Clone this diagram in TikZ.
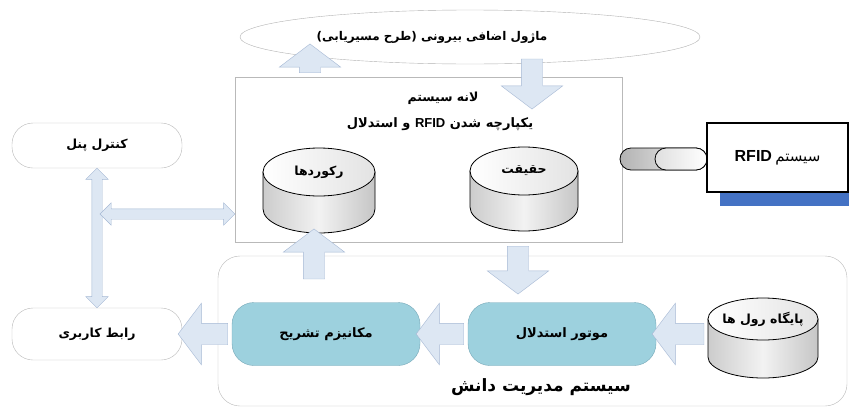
\documentclass[tikz,border=0pt]{standalone}
\usepackage{fontspec}
\usepackage{tikz}
\usetikzlibrary{shapes.geometric, shapes.arrows, shadows, calc, positioning}
\TeXXeTstate=1
\newfontfamily\faFont[Script=Arabic]{DejaVu Sans}
\newfontfamily\enFont{Liberation Sans}
\definecolor{boxGray}{RGB}{185,185,185}
\definecolor{tealFill}{RGB}{157,209,222}
\definecolor{tealLine}{RGB}{118,168,184}
\definecolor{arrowFill}{RGB}{221,231,243}
\definecolor{arrowLine}{RGB}{165,184,212}
\definecolor{rfidBlue}{RGB}{68,114,196}
\tikzset{
    faLabel/.style={font=\faFont\bfseries\fontsize{12.5}{14}\selectfont, inner sep=1pt},
    faTitle/.style={font=\faFont\bfseries\fontsize{17}{19}\selectfont, inner sep=1pt},
    extModule/.style={ellipse, draw=gray!60, fill=white, minimum width=460pt, minimum height=54pt, inner sep=0pt},
    sysFrame/.style={rectangle, draw=boxGray, fill=white, minimum width=387pt, minimum height=165pt, inner sep=0pt},
    kmsFrame/.style={rectangle, draw=boxGray, fill=white, rounded corners=22pt, minimum width=629pt, minimum height=150pt, inner sep=0pt},
    pillNode/.style={faLabel, rectangle, draw=boxGray, fill=white, rounded corners=21pt, minimum width=170pt, inner sep=0pt},
    tealNode/.style={faLabel, font=\faFont\bfseries\fontsize{13}{15}\selectfont, rectangle, draw=tealLine, fill=tealFill, rounded corners=22pt, minimum width=188pt, minimum height=63pt, inner sep=0pt},
    drumBox/.style={rectangle, inner sep=0pt, outer sep=0pt},
    drumSide/.style={draw=black, thick, left color=gray!40, right color=gray!45, middle color=gray!10},
    drumTop/.style={draw=black, thick, left color=white, right color=gray!22},
    rfidNode/.style={rectangle, draw=black, very thick, fill=white, minimum width=141pt, minimum height=69pt, general shadow={fill=rfidBlue, shadow xshift=13pt, shadow yshift=-14pt}},
    linkCap/.style={rectangle, draw=black, thick, rounded corners=11pt, minimum height=22pt, inner sep=0pt, left color=gray!60, right color=gray!8},
    blockArrow/.style={single arrow, draw=arrowLine, fill=arrowFill, inner xsep=0pt, inner ysep=10.5pt, single arrow head extend=20pt, single arrow tip angle=106, single arrow head indent=0pt},
    dualArrow/.style={double arrow, draw=arrowLine, fill=arrowFill, inner xsep=0pt, inner ysep=5pt, double arrow head extend=6pt, double arrow tip angle=90, double arrow head indent=0pt},
}
\newcommand{\rtlText}[1]{\beginR #1\endR}
\newcommand{\drawBlock}[3][blockArrow]{
    \path let \p1=(#2), \p2=(#3), \n1={veclen(\x2-\x1,\y2-\y1)}, \n2={atan2(\y2-\y1,\x2-\x1)} in
        node[#1, minimum height=\n1, rotate=\n2] at ($(\p1)!0.5!(\p2)$) {};
}
% name, centre, x radius, height, y radius, label
\newcommand{\drawDrum}[6]{
    \node[drumBox, minimum width=2*#3pt, minimum height=#4pt] (#1) at (#2) {};
    \path[drumSide] ([yshift=-#5pt]#1.north west) -- ([yshift=#5pt]#1.south west)
        arc[start angle=180, end angle=360, x radius=#3pt, y radius=#5pt]
        -- ([yshift=-#5pt]#1.north east) -- cycle;
    \path[drumTop] ([yshift=-#5pt]#1.north) ellipse[x radius=#3pt, y radius=#5pt];
    \node[faLabel] (#1Lbl) at ([yshift=-#5pt]#1.north) {#6};
}

\begin{document}
\begin{tikzpicture}[x=1pt, y=-1pt]
    \useasboundingbox (0,0) rectangle (849,410);

    % routing module and core
    \node[extModule] (ext) at (470,37) {};
    \node[faLabel, font=\faFont\bfseries\fontsize{12}{14}\selectfont] (extLbl) at (432,37) {\rtlText{ماژول اضافی بیرونی (طرح مسیریابی)}};
    \node[sysFrame] (sys) at (428.5,159.5) {};
    \node[faLabel] (sysTitle) at (443,98) {\rtlText{لانه سیستم}};
    \node[faLabel, font=\faFont\bfseries\fontsize{13}{15}\selectfont] (sysSub) at (440,124) {\rtlText{یکپارچه شدن \beginL{\enFont\bfseries RFID}\endL{} و استدلال}};
    \drawDrum{recs}{319,190.5}{56}{85}{24}{\rtlText{رکوردها}}
    \drawDrum{facts}{524,189}{54}{84}{24}{\rtlText{حقیقت}}

    % knowledge management
    \node[kmsFrame] (kms) at (532.5,331) {};
    \node[tealNode] (expl) at (326,334) {\rtlText{مکانیزم تشریح}};
    \node[tealNode] (infer) at (562,334) {\rtlText{موتور استدلال}};
    \drawDrum{rules}{763,338}{55}{80}{21}{\beginR پایگاه رول ها\endR}
    \node[faTitle] (kmsTitle) at (541,387) {\rtlText{سیستم مدیریت دانش}};

    % panel and user interface
    \node[pillNode, minimum height=45pt] (ctrl) at (97,145.5) {\rtlText{کنترل پنل}};
    \node[pillNode, minimum height=52pt] (ui) at (97,334) {\rtlText{رابط کاربری}};

    % rfid
    \node[linkCap, minimum width=87pt] (linkOut) at (663.5,159) {};
    \node[linkCap, minimum width=52pt, left color=gray!25, right color=white] (linkIn) at (681,159) {};
    \node[rfidNode] (rfid) at (777.5,157.5) {\beginR{\faFont\fontsize{15}{17}\selectfont سیستم} \beginL{\enFont\bfseries\fontsize{16}{18}\selectfont RFID}\endL\endR};

    % block arrows
    \coordinate (upTip) at (310,48);
    \coordinate (dnTail) at (532,55);
    \coordinate (dnTip) at (532,105);
    \coordinate (kmsIn) at (518,290);
    \coordinate (recsFeed) at (314,283);
    \coordinate (panelLink) at (100,214);
    \drawBlock{sys.north -| upTip}{upTip}
    \drawBlock{dnTail}{dnTip}
    \drawBlock{sys.south -| kmsIn}{kmsIn}
    \drawBlock{recsFeed}{recs.south -| recsFeed}
    \drawBlock{expl.west}{ui.east}
    \drawBlock{infer.west}{expl.east}
    \drawBlock{rules.west |- infer.east}{infer.east}
    \drawBlock[dualArrow]{ctrl.south}{ui.north}
    \drawBlock[dualArrow]{panelLink}{sys.west |- panelLink}

\end{tikzpicture}
\end{document}
